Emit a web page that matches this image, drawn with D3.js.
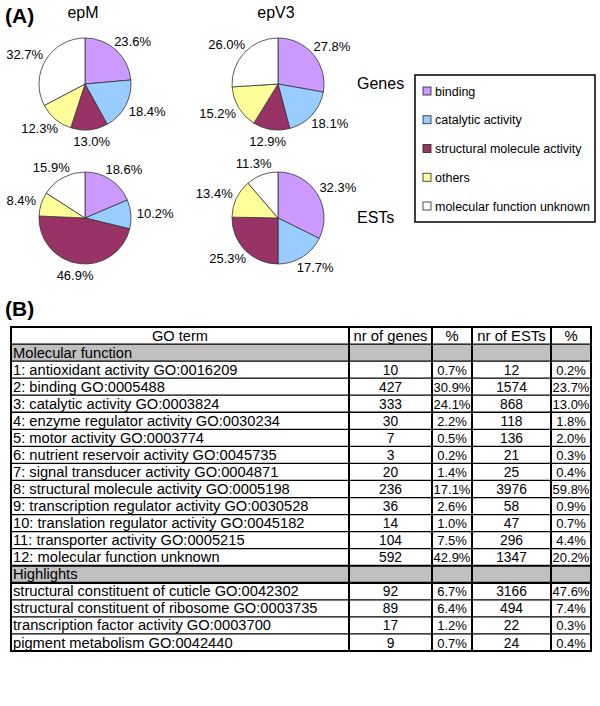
<!DOCTYPE html>
<html><head><meta charset="utf-8">
<script src="https://cdn.jsdelivr.net/npm/d3@7"></script>
<style>
body{margin:0;background:#fff;}
svg{display:block;font-family:"Liberation Sans",Arial,sans-serif;}
</style></head>
<body><svg id="c" width="600" height="706"></svg>
<script>
// ---------- data ----------
const categories = ["binding","catalytic activity","structural molecule activity","others","molecular function unknown"];
const catColors = ["#cc99ff","#99ccff","#993366","#ffff99","#ffffff"];
const strains = ["epM","epV3"];
const dataTypes = ["Genes","ESTs"];
const epMGenes = [23.6,18.4,13.0,12.3,32.7];
const epV3Genes = [27.8,18.1,12.9,15.2,26.0];
const epMESTs = [18.6,10.2,46.9,8.4,15.9];
const epV3ESTs = [32.3,17.7,25.3,13.4,11.3];

const tableHeader = ["GO term","nr of genes","%","nr of ESTs","%"];
const sectionMF = "Molecular function";
const mfTerms = ["1: antioxidant activity GO:0016209","2: binding GO:0005488","3: catalytic activity GO:0003824",
 "4: enzyme regulator activity GO:0030234","5: motor activity GO:0003774","6: nutrient reservoir activity GO:0045735",
 "7: signal transducer activity GO:0004871","8: structural molecule activity GO:0005198",
 "9: transcription regulator activity GO:0030528","10: translation regulator activity GO:0045182",
 "11: transporter activity GO:0005215","12: molecular function unknown"];
const mfGenes = [10,427,333,30,7,3,20,236,36,14,104,592];
const mfGenesPct = ["0.7%","30.9%","24.1%","2.2%","0.5%","0.2%","1.4%","17.1%","2.6%","1.0%","7.5%","42.9%"];
const mfESTs = [12,1574,868,118,136,21,25,3976,58,47,296,1347];
const mfESTsPct = ["0.2%","23.7%","13.0%","1.8%","2.0%","0.3%","0.4%","59.8%","0.9%","0.7%","4.4%","20.2%"];
const sectionHL = "Highlights";
const hlTerms = ["structural constituent of cuticle GO:0042302","structural constituent of ribosome GO:0003735",
 "transcription factor activity GO:0003700","pigment metabolism GO:0042440"];
const hlGenes = [92,89,17,9];
const hlGenesPct = ["6.7%","6.4%","1.2%","0.7%"];
const hlESTs = [3166,494,22,24];
const hlESTsPct = ["47.6%","7.4%","0.3%","0.4%"];

// ---------- drawing ----------
const svg = d3.select("#c");

svg.append("text").attr("x",5).attr("y",23).attr("font-size",21).attr("font-weight","bold").text("(A)");

const pieData = [[epMGenes,epV3Genes],[epMESTs,epV3ESTs]];
const colX = d3.scaleOrdinal().domain(strains).range([85,278]);
const rowY = d3.scaleOrdinal().domain(dataTypes).range([84,218]);
const color = d3.scaleOrdinal().domain(categories).range(catColors);
const R = 46;
const pie = d3.pie().sort(null).value(d=>d.v);
const arc = d3.arc().innerRadius(0).outerRadius(R);

strains.forEach(s=>{
  svg.append("text").attr("x",colX(s)-2).attr("y",18).attr("text-anchor","middle")
    .attr("font-size",16).text(s);
});
dataTypes.forEach(t=>{
  svg.append("text").attr("x",357).attr("y",rowY(t)+5).attr("font-size",16).text(t);
});

dataTypes.forEach((t,ti)=>{
  strains.forEach((s,si)=>{
    const vals = pieData[ti][si].map((v,i)=>({v,c:categories[i]}));
    const g = svg.append("g").attr("transform",`translate(${colX(s)},${rowY(t)})`);
    const arcs = pie(vals);
    g.selectAll("path").data(arcs).join("path")
      .attr("d",arc).attr("fill",d=>color(d.data.c))
      .attr("stroke","#333").attr("stroke-width",0.8);
    arcs.forEach(d=>{
      const a = (d.startAngle+d.endAngle)/2;
      const sx = Math.sin(a), cy = -Math.cos(a);
      const pr = R+6;
      const txt = g.append("text").attr("font-size",13).attr("text-anchor","middle")
        .text(d.data.v.toFixed(1)+"%");
      const w = txt.node().getComputedTextLength(), h = 12;
      const x = pr*sx + w/2*sx;
      const y = pr*cy + h/2*cy + 4.5;
      txt.attr("x",x).attr("y",y);
    });
  });
});

// legend
const lg = svg.append("g");
lg.append("rect").attr("x",415).attr("y",75).attr("width",180).attr("height",147)
  .attr("fill","#fff").attr("stroke","#000").attr("stroke-width",1.5);
const legY = d3.scalePoint().domain(categories).range([91,206]);
categories.forEach(c=>{
  lg.append("rect").attr("x",423).attr("y",legY(c)-4).attr("width",8).attr("height",8)
    .attr("fill",color(c)).attr("stroke","#222").attr("stroke-width",0.8);
  lg.append("text").attr("x",435).attr("y",legY(c)+4.5).attr("font-size",12.5).text(c);
});

// ---------- table ----------
svg.append("text").attr("x",5).attr("y",316).attr("font-size",21).attr("font-weight","bold").text("(B)");

const rows = [];
rows.push({type:"header",cells:tableHeader});
rows.push({type:"section",cells:[sectionMF,"","","",""]});
mfTerms.forEach((t,i)=>rows.push({type:"row",cells:[t,mfGenes[i],mfGenesPct[i],mfESTs[i],mfESTsPct[i]]}));
rows.push({type:"section",cells:[sectionHL,"","","",""]});
hlTerms.forEach((t,i)=>rows.push({type:"row",cells:[t,hlGenes[i],hlGenesPct[i],hlESTs[i],hlESTsPct[i]]}));

const colEdges = [11,349,432,472,551,591];
const rowScale = d3.scaleBand().domain(d3.range(rows.length)).range([327,651]);
const rh = rowScale.bandwidth();
const tg = svg.append("g");

rows.forEach((r,ri)=>{
  const y0 = rowScale(ri);
  if(r.type==="section"){
    tg.append("rect").attr("x",colEdges[0]).attr("y",y0).attr("width",colEdges[5]-colEdges[0])
      .attr("height",rh).attr("fill","#c0c0c0");
  }
  r.cells.forEach((c,ci)=>{
    if(c==="" ) return;
    const left = ci===0 && r.type!=="header";
    const x = left ? colEdges[0]+2 : (colEdges[ci]+colEdges[ci+1])/2;
    const fs = r.type==="header" ? (ci===0?14.6:14.8) : (ci===0 ? 14.7 : (ci===2||ci===4 ? 13 : 13.8));
    tg.append("text").attr("x",x).attr("y",y0+rh-3.5).attr("font-size",fs)
      .attr("text-anchor",left?"start":"middle").text(c);
  });
});
// horizontal lines
for(let ri=1; ri<rows.length; ri++){
  const y = rowScale(ri);
  const thick = rows[ri].type==="section" && ri>1 || (rows[ri-1].type==="section" && ri>2);
  tg.append("line").attr("x1",colEdges[0]).attr("x2",colEdges[5]).attr("y1",y).attr("y2",y)
    .attr("stroke","#000").attr("stroke-width",thick?2.2:1.3);
}
// vertical lines
colEdges.slice(1,5).forEach(x=>{
  tg.append("line").attr("x1",x).attr("x2",x).attr("y1",327).attr("y2",651)
    .attr("stroke","#000").attr("stroke-width",2);
});
tg.append("rect").attr("x",colEdges[0]).attr("y",327).attr("width",colEdges[5]-colEdges[0])
  .attr("height",651-327).attr("fill","none").attr("stroke","#000").attr("stroke-width",2);
</script></body></html>
